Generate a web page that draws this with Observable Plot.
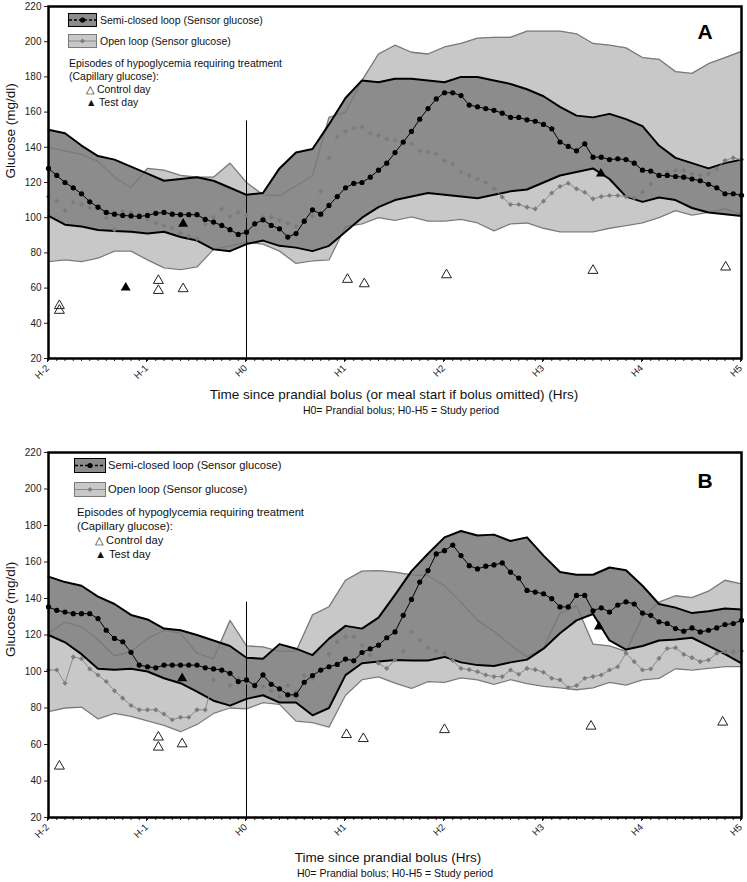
<!DOCTYPE html>
<html><head><meta charset="utf-8">
<script src="https://cdn.jsdelivr.net/npm/d3@7"></script>
<script src="https://cdn.jsdelivr.net/npm/@observablehq/plot@0.6"></script>
<style>
body{margin:0;background:#fff;font-family:"Liberation Sans",Arial,sans-serif;}
#page{position:relative;width:747px;height:882px;overflow:hidden;background:#fff;}
.abs{position:absolute;white-space:nowrap;transform:translate(-50%,-50%);line-height:1;color:#111;}
.leg{position:absolute;white-space:nowrap;line-height:1;color:#111;transform:translateY(-50%);}
.sw{position:absolute;}
</style></head><body><div id="page"></div>
<script>
// ---------- sampling grids ----------
const bandHours = d3.range(43).map(i => -2 + i / 6);   // 10-min samples, H-2 .. H5
const meanHours = d3.range(85).map(i => -2 + i / 12);  // 5-min samples, H-2 .. H5

// ---------- axis ticks ----------
const xTicks = [-2, -1, 0, 1, 2, 3, 4, 5];
const xTickLabels = ["H-2", "H-1", "H0", "H1", "H2", "H3", "H4", "H5"];
const minorTicks = d3.range(85).map(i => -2 + i / 12);
const yTicks = [20, 40, 60, 80, 100, 120, 140, 160, 180, 200, 220];

// ---------- Panel A ----------
const A_sclUpper = [150,148,141,135,133,129,125,121,122,123,121,117,113,114,128,137,139,153,168,178,177,179,179,178,177,180,180,178,176,173,169,163,158,157,159,156,152,141,134,131,128,131,133];
const A_sclLower = [101,96,95,93,92.5,92,91,92,89,87,82,81,85,87,84,83,81,84,92,100,106,110,112,114,113,112,111,113,115,116,120,124,126,128,122,112,109,111.5,110,105.5,103,102,101];
const A_olUpper = [140,138,136,132,123,117,128,127,124,123,123,131,120,113,112.5,118,124,157,160,178,193,198,194,193,197,199,202,202.5,202.5,206,206,206,204.5,199,198,196.5,191,190,183,182,187.5,191,194.5];
const A_olLower = [75,76,75,77,81,81,76,71.5,70.5,72,82,84,86,85,81,74,75.5,76,95,96.5,100,98.5,100.5,98,98,99,97,92.5,96.5,97,94,92,92,92,94,95.5,97,100,104,101.5,103,105,102];
const A_sclMean = [128,124,120,117,113.6,109,106,103,102,101.3,
  101,100.7,101.3,102.5,103,102,101.7,101.7,101.7,99,
  97.5,95.6,93.2,90.5,91.8,96.5,98.8,95.6,93.7,89,
  91,98,104.5,102,107,112,117,119.5,120,123,
  127,131,137,143,149,156,162,167.5,171,171,
  169.4,164,163,162,161,159.4,157,157,155.6,154.8,
  153,150.5,143,140.5,138,142,134.4,134.4,133,133.5,
  133,131,127,126.5,124,124,123.4,123,122,121,
  119,117,113.6,113.6,112.7];
const A_olMean = [112,109.4,104,108.8,107.5,105.6,106,100,93.2,103.7,
  103,102,99.4,96.9,95.6,94.2,91.2,89.3,88,96.5,
  100.3,105,100.7,103,101.3,97.5,100.3,100.3,98.4,96.9,
  95,97.5,101,115,134,146,149,151,151.5,148,
  146.7,144.8,144,142,142,138,137.3,136.3,132.5,130.6,
  126,124,122,120,116.4,111.7,107.5,107.5,106,105,
  109.4,114,117.7,119.6,116.4,114.5,110.7,112,112.6,112.6,
  112,111.3,114.5,119.2,124,126,126.8,126.8,125,124,
  125,127.8,132.5,134,133];
const A_controlHours = [-1.89,-1.89,-0.89,-0.89,-0.64,1.02,1.19,2.02,3.5,4.84];
const A_controlGlucose = [50,47.3,64.3,58.6,59.6,64.9,62.4,67.5,70,71.9];
const A_testHours = [-1.22,-0.64,3.58];
const A_testGlucose = [60.2,96.5,125];
const A_bolusLine = [20, 155];

// ---------- Panel B ----------
const B_sclUpper = [152,149,147,141,137,131,128.5,123.5,122.6,120,117,114,107.5,107,115,112.5,109,118,125,123.5,129.5,142,155,164.5,173.5,177,174.5,175,171.5,173.5,163.5,154.5,153,153,157,155.5,147,137,135,132,133,134.5,134];
const B_sclLower = [120,116,109.5,101.5,101,101.5,100,96.3,93.6,89,84,81.3,85,87,83,83,76,80,98,104.5,105.5,106.3,106,106,108,105,103.5,103,105,106.5,112.5,121,128,131.5,117,112,114,117,117.5,118.5,114,109.5,104.5];
const B_olUpper = [121,127,124.5,117.5,108.5,111,118,122.5,121,110,107,128,114,113.5,111,111,131,135.5,150,155,155.3,154.4,153,152.6,147,138,128,122,114.5,108,113,132,136,115,114,111,130,138,141.5,140.5,144,150,148];
const B_olLower = [78,80,80.5,74,77,75.4,73,70.5,67,71,77,80,79.5,83,82,72.8,72,69.5,87,95.5,97,93.6,90.8,94.5,94,96.5,95.4,93,95.5,93.3,91.8,91,90,91,94,92.5,95.4,96.2,101.5,100.8,101.7,102.7,102.7];
const B_sclMean = [135.4,133.5,132.6,131.7,131.7,131.7,129,122.6,118.1,116.3,
  110.5,103.5,102.6,102,103.5,103.5,103.5,103.5,103.5,102,
  101.4,100.8,99,94.5,95.4,92.3,98.1,93,90.5,87.2,
  87.2,94.1,97.8,100.8,102.6,103.9,106.8,105.9,110.4,112.4,
  114.4,118.5,121.7,130.8,139.5,149,155.3,164.4,166.2,169.3,
  163.5,158,156.2,157.7,158.4,159.5,154.4,151.2,144.4,143.5,
  142.6,139.9,135.4,135.4,141.7,141.7,133.3,134.9,132.6,136.4,
  138.2,137,132,130.8,127.2,126.3,123.5,122.1,123.9,121.7,
  122.6,123.9,125.7,126.3,128];
const B_olMean = [100.8,100.8,93.6,108,107,101.4,98.1,94.5,89.4,85.4,
  81.4,79,79,79,76.7,73.6,74.9,74.9,79,79,
  95.4,99.9,92.3,96.3,94.1,93,91.8,89.4,86,92.3,
  89,97.8,96,100,109.4,116.3,119,119,114.4,109,
  104.5,101.7,106.3,111,121.7,117.2,113,111.2,110,106,
  101.7,101,99.9,98.1,97.2,97.2,100.8,98.5,101.7,101,
  99.6,96.3,95.4,91.2,92.3,96.3,97.2,98.1,100.8,102.6,
  110,105.4,100.8,101.4,107.2,112.6,113,109.4,107.6,105.4,
  106.3,110,110.8,110.8,111.2];
const B_controlHours = [-1.89,-0.89,-0.89,-0.65,1.01,1.18,2.0,3.48,4.81];
const B_controlGlucose = [48.1,64,58.5,60.3,65.4,63.2,68.1,70,72.2];
const B_testHours = [-0.65,3.56];
const B_testGlucose = [96.3,124.6];
const B_bolusLine = [20, 138];

// ---------- texts ----------
const legendTexts = ["Semi-closed loop (Sensor glucose)", "Open loop (Sensor glucose)",
  "Episodes of hypoglycemia requiring treatment", "(Capillary glucose):", "\u25B3 Control day", "\u25B2 Test day"];
const yLabel = "Glucose (mg/dl)";
const A_xTitle = "Time since prandial bolus (or meal start if bolus omitted) (Hrs)";
const B_xTitle = "Time since prandial bolus (Hrs)";
const subTitle = "H0= Prandial bolus; H0-H5 = Study period";

// ---------- style ----------
const FONT = "'Liberation Sans', Arial, sans-serif";
const DARK = "#8c8c8c", LIGHT = "#c8c8c8", OL_EDGE = "#7a7a7a", OL_MEAN = "#8a8a8a", OL_MARK = "#7c7c7c";

const page = document.getElementById("page");
function addDiv(txt, x, y, cls, style) {
  const d = document.createElement("div");
  d.className = cls; d.textContent = txt;
  d.style.left = x + "px"; d.style.top = y + "px";
  Object.assign(d.style, style || {});
  page.appendChild(d);
}
function addSwatch(x, y, w, h, kind) {
  const d = document.createElement("div");
  d.className = "sw"; d.style.left = x + "px"; d.style.top = y + "px";
  const cy = h / 2, cx = w / 2;
  if (kind === "scl") {
    d.innerHTML = `<svg width="${w}" height="${h}"><rect x="0.5" y="0.5" width="${w-1}" height="${h-1}" fill="${DARK}" stroke="#000" stroke-width="1"/>
      <line x1="1" x2="${w-1}" y1="${cy}" y2="${cy}" stroke="#000" stroke-width="1.3" stroke-dasharray="3,2"/>
      <circle cx="${cx}" cy="${cy}" r="2.6" fill="#000"/></svg>`;
  } else {
    d.innerHTML = `<svg width="${w}" height="${h}"><rect x="0.5" y="0.5" width="${w-1}" height="${h-1}" fill="${LIGHT}" stroke="${OL_EDGE}" stroke-width="1"/>
      <line x1="1" x2="${w-1}" y1="${cy}" y2="${cy}" stroke="${OL_MEAN}" stroke-width="1"/>
      <rect x="${cx-1.8}" y="${cy-1.8}" width="3.6" height="3.6" fill="${OL_MARK}" transform="rotate(45 ${cx} ${cy})"/></svg>`;
  }
  page.appendChild(d);
}

function drawPanel(p) {
  const scl = bandHours.map((h, i) => ({h, lo: p.sclLower[i], hi: p.sclUpper[i]}));
  const ol = bandHours.map((h, i) => ({h, lo: p.olLower[i], hi: p.olUpper[i]}));
  const sclM = meanHours.map((h, i) => ({h, v: p.sclMean[i]}));
  const olM = meanHours.map((h, i) => ({h, v: p.olMean[i]}));
  const ctrl = p.controlHours.map((h, i) => ({h, v: p.controlGlucose[i]}));
  const test = p.testHours.map((h, i) => ({h, v: p.testGlucose[i]}));
  const chart = Plot.plot({
    width: 747, height: p.height,
    marginTop: 6, marginBottom: p.marginBottom, marginLeft: 48, marginRight: 6,
    style: {fontFamily: FONT, fontSize: "10px", color: "#222", background: "transparent"},
    x: {domain: [-2, 5]},
    y: {domain: [20, 220]},
    marks: [
      Plot.areaY(ol, {x: "h", y1: "lo", y2: "hi", fill: LIGHT}),
      Plot.areaY(scl, {x: "h", y1: "lo", y2: "hi", fill: DARK}),
      Plot.lineY(ol, {x: "h", y: "hi", stroke: OL_EDGE, strokeWidth: 1.3}),
      Plot.lineY(ol, {x: "h", y: "lo", stroke: OL_EDGE, strokeWidth: 1.3}),
      Plot.lineY(scl, {x: "h", y: "hi", stroke: "#000", strokeWidth: 2}),
      Plot.lineY(scl, {x: "h", y: "lo", stroke: "#000", strokeWidth: 2}),
      Plot.ruleX([0], {y1: p.bolusLine[0], y2: p.bolusLine[1], stroke: "#000", strokeWidth: 1}),
      Plot.lineY(olM, {x: "h", y: "v", stroke: OL_MEAN, strokeWidth: 1}),
      Plot.dot(olM, {x: "h", y: "v", symbol: "diamond2", r: 2.3, fill: OL_MARK}),
      Plot.lineY(sclM, {x: "h", y: "v", stroke: "#000", strokeWidth: 1}),
      Plot.dot(sclM, {x: "h", y: "v", r: 2.6, fill: "#000"}),
      Plot.dot(ctrl, {x: "h", y: "v", symbol: "triangle", r: 3.7, fill: "none", stroke: "#222", strokeWidth: 1}),
      Plot.dot(test, {x: "h", y: "v", symbol: "triangle", r: 3.7, fill: "#000"}),
      Plot.text([yLabel], {frameAnchor: "left", text: d => d, rotate: -90, dx: -38, dy: p.yLabelDy, fontSize: 13.5, fill: "#111"}),
      Plot.axisY({ticks: yTicks, tickSize: 4, tickPadding: 3, label: null, fontSize: 10, fill: "#222"}),
      Plot.axisX({ticks: minorTicks, tickSize: 3, tickFormat: () => "", label: null}),
      Plot.axisX({ticks: xTicks, tickSize: 4, tickPadding: 4, tickRotate: -45, dx: -1,
        tickFormat: d => xTickLabels[xTicks.indexOf(d)], label: null, fontSize: 9.5, fill: "#222"}),
      Plot.frame({stroke: "#000", strokeWidth: 2.5})
    ]
  });
  chart.style.position = "absolute";
  chart.style.left = "0px";
  chart.style.top = p.top + "px";
  page.appendChild(chart);

  const L = p.legend, fs = L.fontSize + "px";
  addSwatch(L.x, L.y1, L.w, L.h, "scl");
  addSwatch(L.x, L.y2, L.w, L.h, "ol");
  addDiv(legendTexts[0], L.tx, L.y1 + L.h / 2, "leg", {fontSize: fs});
  addDiv(legendTexts[1], L.tx, L.y2 + L.h / 2, "leg", {fontSize: fs});
  addDiv(legendTexts[2], L.ex, L.ey, "leg", {fontSize: fs});
  addDiv(legendTexts[3], L.ex, L.ey + L.step, "leg", {fontSize: fs});
  addDiv(legendTexts[4], L.cx, L.ey + 2 * L.step, "leg", {fontSize: fs});
  addDiv(legendTexts[5], L.cx, L.ey + 3 * L.step, "leg", {fontSize: fs});
  addDiv(p.letter, 705, p.letterY, "abs", {fontSize: "21px", fontWeight: "bold", color: "#000"});
  addDiv(p.xTitle, p.titleX, p.titleY, "abs", {fontSize: "13.5px"});
  addDiv(subTitle, p.subX, p.subY, "abs", {fontSize: "10.5px"});
}

drawPanel({
  top: 0, height: 430, marginBottom: 72, yLabelDy: -4,
  sclUpper: A_sclUpper, sclLower: A_sclLower, olUpper: A_olUpper, olLower: A_olLower,
  sclMean: A_sclMean, olMean: A_olMean,
  controlHours: A_controlHours, controlGlucose: A_controlGlucose,
  testHours: A_testHours, testGlucose: A_testGlucose, bolusLine: A_bolusLine,
  letter: "A", letterY: 31,
  xTitle: A_xTitle, titleX: 394, titleY: 395, subX: 401, subY: 410,
  legend: {x: 68, y1: 13, y2: 34, w: 29, h: 14, tx: 100, ex: 69, ey: 63, step: 13, cx: 86, fontSize: 10.5}
});
drawPanel({
  top: 446, height: 436, marginBottom: 65, yLabelDy: 22,
  sclUpper: B_sclUpper, sclLower: B_sclLower, olUpper: B_olUpper, olLower: B_olLower,
  sclMean: B_sclMean, olMean: B_olMean,
  controlHours: B_controlHours, controlGlucose: B_controlGlucose,
  testHours: B_testHours, testGlucose: B_testGlucose, bolusLine: B_bolusLine,
  letter: "B", letterY: 480,
  xTitle: B_xTitle, titleX: 388, titleY: 858, subX: 395, subY: 873,
  legend: {x: 74, y1: 458, y2: 482, w: 32, h: 15, tx: 108, ex: 77, ey: 513, step: 14, cx: 95, fontSize: 11.2}
});
</script></body></html>
